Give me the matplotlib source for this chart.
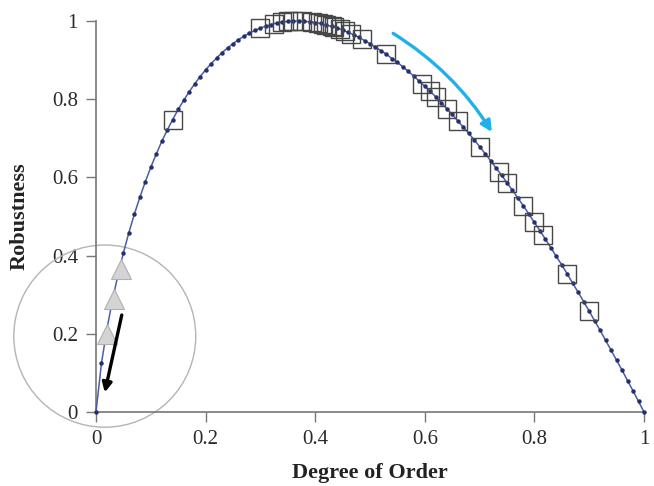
import matplotlib
matplotlib.use("Agg")
import matplotlib.pyplot as plt
from matplotlib.patches import Ellipse, FancyArrowPatch

# robustness curve (step 0.01)
order = [i / 100 for i in range(101)]
robustness = [
    0.000, 0.125, 0.213, 0.286, 0.350, 0.407, 0.459, 0.506, 0.549, 0.589,
    0.626, 0.660, 0.692, 0.721, 0.748, 0.774, 0.797, 0.819, 0.839, 0.858,
    0.875, 0.891, 0.905, 0.919, 0.931, 0.942, 0.952, 0.961, 0.969, 0.976,
    0.982, 0.987, 0.991, 0.995, 0.997, 0.999, 1.000, 1.000, 0.999, 0.998,
    0.996, 0.994, 0.990, 0.986, 0.982, 0.977, 0.971, 0.965, 0.958, 0.950,
    0.942, 0.933, 0.924, 0.915, 0.904, 0.894, 0.883, 0.871, 0.859, 0.846,
    0.833, 0.820, 0.806, 0.791, 0.776, 0.761, 0.745, 0.729, 0.713, 0.696,
    0.679, 0.661, 0.643, 0.624, 0.606, 0.586, 0.567, 0.547, 0.527, 0.506,
    0.485, 0.464, 0.442, 0.420, 0.398, 0.376, 0.353, 0.329, 0.306, 0.282,
    0.258, 0.233, 0.209, 0.183, 0.158, 0.132, 0.107, 0.080, 0.054, 0.027,
    0.000,
]

# square markers
sq_x = [0.14, 0.30, 0.325, 0.34, 0.35, 0.36, 0.375, 0.395, 0.405, 0.415,
        0.42, 0.43, 0.435, 0.445, 0.455, 0.465, 0.485, 0.53, 0.595, 0.61,
        0.62, 0.64, 0.66, 0.70, 0.735, 0.75, 0.78, 0.80, 0.815, 0.86, 0.90]
sq_y = [0.748, 0.982, 0.993, 0.997, 0.999, 1.000, 1.000, 0.997, 0.995, 0.992,
        0.990, 0.986, 0.984, 0.979, 0.974, 0.968, 0.954, 0.915, 0.840, 0.820,
        0.806, 0.776, 0.745, 0.679, 0.615, 0.586, 0.527, 0.485, 0.453, 0.353,
        0.258]

# triangle markers near the origin
tri_x = [0.02, 0.032, 0.045]
tri_y = [0.20, 0.29, 0.365]

ticks = [0, 0.2, 0.4, 0.6, 0.8, 1]
tick_labels = ["0", "0.2", "0.4", "0.6", "0.8", "1"]

serif = ["Liberation Serif", "DejaVu Serif"]
plt.rcParams["font.family"] = serif

fig = plt.figure(figsize=(6.54, 4.86), dpi=100)
ax = fig.add_axes([0.1468, 0.1523, 0.8379, 0.8045])

ax.plot(order, robustness, color="#4a5ca6", linewidth=1.1, marker="o",
        markersize=2.2, markerfacecolor="#24306e", markeredgecolor="#24306e",
        clip_on=False, zorder=3)
ax.plot(sq_x, sq_y, linestyle="none", marker="s", markersize=13,
        markerfacecolor="none", markeredgecolor="#474747", markeredgewidth=1.0,
        clip_on=False, zorder=4)
ax.plot(tri_x, tri_y, linestyle="none", marker="^", markersize=15,
        markerfacecolor="#d4d4d4", markeredgecolor="#b0b0b0", markeredgewidth=0.8,
        clip_on=False, zorder=5)

# grey circle round the start of the curve
ax.add_patch(Ellipse((0.016, 0.194), 0.332, 0.466, fill=False,
                     edgecolor="#b4b4b4", linewidth=1.0, clip_on=False, zorder=2))

# black arrow down to the origin
ax.annotate("", xy=(0.016, 0.05), xytext=(0.047, 0.248),
            arrowprops=dict(arrowstyle="-|>", color="black", lw=2.4,
                            mutation_scale=14, shrinkA=0, shrinkB=0),
            annotation_clip=False, zorder=6)

# curved blue arrow along the falling side
ax.add_patch(FancyArrowPatch((0.538, 0.972), (0.725, 0.71),
                             connectionstyle="arc3,rad=-0.12",
                             arrowstyle="-|>", mutation_scale=16,
                             color="#22b0e8", lw=2.4, clip_on=False, zorder=6))

ax.set_xlim(0, 1)
ax.set_ylim(0, 1)
ax.set_xticks(ticks)
ax.set_xticklabels(tick_labels)
ax.set_yticks(ticks)
ax.set_yticklabels(tick_labels)
ax.tick_params(direction="out", length=7, width=1, color="#777777",
               labelsize=15, labelcolor="#2a2a2a", pad=6)

for side in ["top", "right"]:
    ax.spines[side].set_visible(False)
for side in ["left", "bottom"]:
    ax.spines[side].set_color("#777777")
    ax.spines[side].set_linewidth(1.2)

ax.set_xlabel("Degree of Order", fontsize=16, fontweight="bold",
              color="#222222", labelpad=10)
ax.set_ylabel("Robustness", fontsize=16, fontweight="bold",
              color="#222222", labelpad=16)

fig.savefig("out.png", dpi=100)
